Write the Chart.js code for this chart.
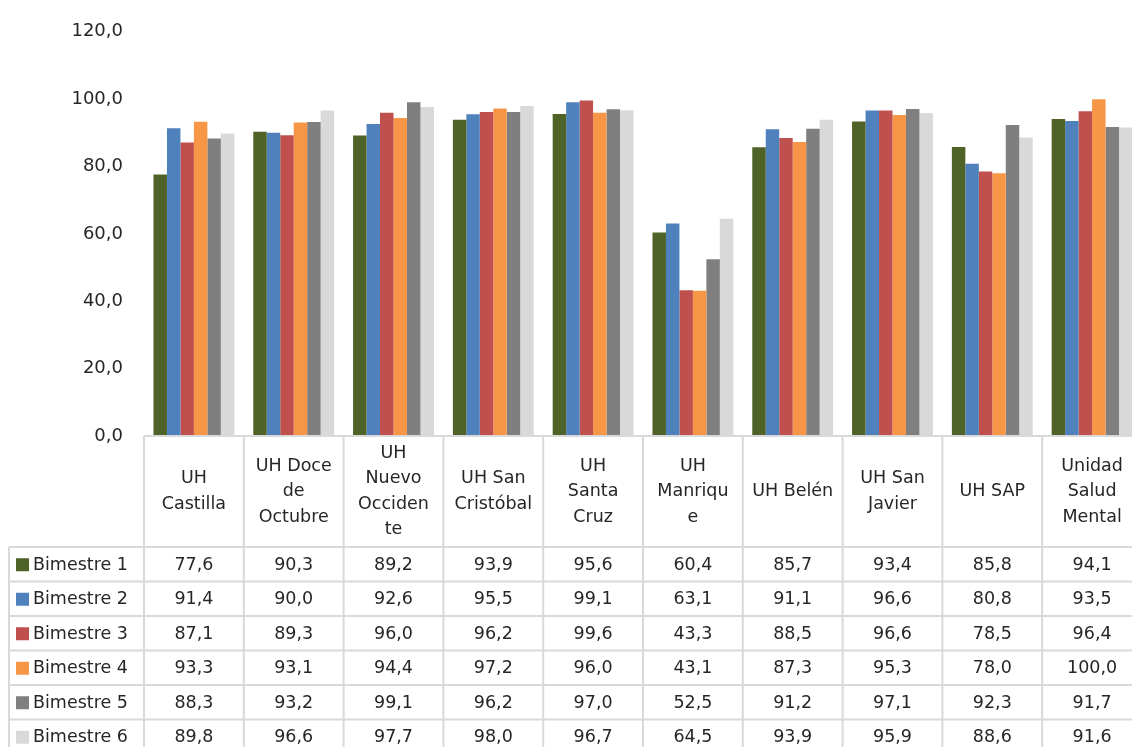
<!DOCTYPE html>
<html>
<head>
<meta charset="utf-8">
<script src="https://cdn.jsdelivr.net/npm/chart.js@4/dist/chart.umd.min.js"></script>
<style>
  html, body { margin: 0; padding: 0; background: #fff; overflow: hidden; }
  #wrap { position: relative; width: 1142px; height: 747px; }
</style>
</head>
<body>
<div id="wrap"><canvas id="bimestres"></canvas></div>
<script>
// units, one header cell each (lines as they wrap in the table)
const units = [
  ["UH", "Castilla"],
  ["UH Doce", "de", "Octubre"],
  ["UH", "Nuevo", "Occiden", "te"],
  ["UH San", "Cristóbal"],
  ["UH", "Santa", "Cruz"],
  ["UH", "Manriqu", "e"],
  ["UH Belén"],
  ["UH San", "Javier"],
  ["UH SAP"],
  ["Unidad", "Salud", "Mental"],
];

const bimestre1 = [77.6, 90.3, 89.2, 93.9, 95.6, 60.4, 85.7, 93.4, 85.8, 94.1];
const bimestre2 = [91.4, 90.0, 92.6, 95.5, 99.1, 63.1, 91.1, 96.6, 80.8, 93.5];
const bimestre3 = [87.1, 89.3, 96.0, 96.2, 99.6, 43.3, 88.5, 96.6, 78.5, 96.4];
const bimestre4 = [93.3, 93.1, 94.4, 97.2, 96.0, 43.1, 87.3, 95.3, 78.0, 100.0];
const bimestre5 = [88.3, 93.2, 99.1, 96.2, 97.0, 52.5, 91.2, 97.1, 92.3, 91.7];
const bimestre6 = [89.8, 96.6, 97.7, 98.0, 96.7, 64.5, 93.9, 95.9, 88.6, 91.6];

const seriesNames = ["Bimestre 1", "Bimestre 2", "Bimestre 3", "Bimestre 4", "Bimestre 5", "Bimestre 6"];
const seriesValues = [bimestre1, bimestre2, bimestre3, bimestre4, bimestre5, bimestre6];
const colors = ["#4f6228", "#4f81bd", "#c0504d", "#f79646", "#7f7f7f", "#d9d9d9"];

const yTicks = [0, 20, 40, 60, 80, 100, 120];

const FONT = "DejaVu Sans";
const TEXT = "#262626";
const LINE = "#d9d9d9";

function fmt(v) {
  return v.toFixed(1).replace(".", ",");
}

// data table under the plot, aligned on the x scale
const dataTable = {
  id: "dataTable",
  afterDraw(chart) {
    const ctx = chart.ctx;
    const x = chart.scales.x;
    const area = chart.chartArea;
    const half = (x.getPixelForValue(1) - x.getPixelForValue(0)) / 2;
    const n = units.length;
    const edges = [];
    for (let i = 0; i < n; i++) edges.push(x.getPixelForValue(i) - half);
    edges.push(x.getPixelForValue(n - 1) + half);

    const top = area.bottom;
    const headerBottom = 547;
    const rowH = 34.5;
    const legendLeft = 9;
    const bottom = chart.height + 10;

    ctx.save();
    ctx.strokeStyle = LINE;
    ctx.lineWidth = 2;
    ctx.beginPath();
    // header row
    ctx.moveTo(edges[0], top);
    ctx.lineTo(edges[n], top);
    for (let r = 0; r <= seriesNames.length; r++) {
      const y = headerBottom + r * rowH;
      ctx.moveTo(legendLeft, y);
      ctx.lineTo(edges[n], y);
    }
    edges.forEach((e) => {
      ctx.moveTo(e, top);
      ctx.lineTo(e, bottom);
    });
    ctx.moveTo(legendLeft, headerBottom);
    ctx.lineTo(legendLeft, bottom);
    ctx.stroke();

    ctx.fillStyle = TEXT;
    ctx.font = `17.5px "${FONT}"`;
    ctx.textAlign = "center";
    ctx.textBaseline = "middle";

    // unit names
    const lh = 25.5;
    const headMid = (top + headerBottom) / 2;
    units.forEach((lines, i) => {
      const cx = x.getPixelForValue(i);
      const y0 = headMid - ((lines.length - 1) * lh) / 2;
      lines.forEach((t, k) => ctx.fillText(t, cx, y0 + k * lh));
    });

    // rows
    seriesNames.forEach((name, r) => {
      const cy = headerBottom + r * rowH + rowH / 2 + 1;
      ctx.fillStyle = colors[r];
      ctx.fillRect(16, cy - 7, 13, 13);
      ctx.fillStyle = TEXT;
      ctx.textAlign = "left";
      ctx.fillText(name, 33, cy);
      ctx.textAlign = "center";
      seriesValues[r].forEach((v, i) => {
        ctx.fillText(fmt(v), x.getPixelForValue(i), cy);
      });
    });
    ctx.restore();
  },
};

new Chart(document.getElementById("bimestres"), {
  type: "bar",
  data: {
    labels: units.map((u) => u.join(" ")),
    datasets: seriesNames.map((name, i) => ({
      label: name,
      data: seriesValues[i],
      backgroundColor: colors[i],
      borderWidth: 0,
      categoryPercentage: 0.81,
      barPercentage: 1.0,
    })),
  },
  options: {
    responsive: true,
    maintainAspectRatio: false,
    animation: false,
    layout: {
      padding: { top: 28, right: 0, bottom: 311, left: 0 },
    },
    plugins: {
      legend: { display: false },
      tooltip: { enabled: false },
    },
    scales: {
      x: {
        display: false,
      },
      y: {
        min: 0,
        max: 120,
        afterFit(scale) {
          scale.width = 144;
        },
        afterBuildTicks(scale) {
          scale.ticks = yTicks.map((v) => ({ value: v }));
        },
        grid: { display: false, drawTicks: false },
        border: { display: false },
        ticks: {
          padding: 21,
          color: TEXT,
          font: { family: FONT, size: 18 },
          callback: (v) => fmt(v),
        },
      },
    },
  },
  plugins: [dataTable],
});
</script>
</body>
</html>
